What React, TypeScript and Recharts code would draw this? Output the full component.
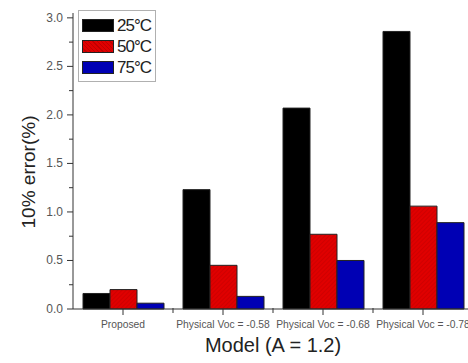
import { BarChart, Bar, XAxis, YAxis, Legend, Label } from 'recharts';

const CATEGORIES = ['Proposed', 'Physical Voc = -0.58', 'Physical Voc = -0.68', 'Physical Voc = -0.78'];
const T25 = [0.16, 1.23, 2.07, 2.86];
const T50 = [0.2, 0.45, 0.77, 1.06];
const T75 = [0.06, 0.13, 0.5, 0.89];
const Y_TICKS = [0, 0.25, 0.5, 0.75, 1, 1.25, 1.5, 1.75, 2, 2.25, 2.5, 2.75, 3];
const SERIES = [
  { key: 't25', name: '25°C', fill: '#000000', legend: '#000000' },
  { key: 't50', name: '50°C', fill: 'url(#hatchRed)', legend: 'repeating-linear-gradient(45deg, #e00000 0 2px, #c00000 2px 3px)' },
  { key: 't75', name: '75°C', fill: '#0000b4', legend: '#0000b4' },
];

const data = CATEGORIES.map((name, i) => ({ name, t25: T25[i], t50: T50[i], t75: T75[i] }));

const PLOT_W = 400;
const CAT_W = PLOT_W / CATEGORIES.length;
const FONT = '"Liberation Sans", Arial, sans-serif';

function YTick({ x, y, payload }: any) {
  const major = Math.abs(payload.value * 2 - Math.round(payload.value * 2)) < 1e-6;
  return (
    <g>
      <line x1={x} x2={x - (major ? 6 : 4)} y1={y} y2={y} stroke="#333" strokeWidth={1} />
      {major && (
        <text x={x - 10} y={y + 4} textAnchor="end" fontSize={12} fill="#555" fontFamily={FONT}>
          {payload.value.toFixed(1)}
        </text>
      )}
    </g>
  );
}

function XTick({ x, y, payload }: any) {
  return (
    <g>
      <line x1={x} x2={x} y1={y} y2={y + 6} stroke="#333" strokeWidth={1} />
      <line x1={x + CAT_W / 2} x2={x + CAT_W / 2} y1={y - 1} y2={y + 4} stroke="#333" strokeWidth={1} />
      <text x={x} y={y + 19} textAnchor="middle" fontSize={10.3} fill="#555" fontFamily={FONT}>
        {payload.value}
      </text>
    </g>
  );
}

function LegendBox() {
  return (
    <div
      style={{
        border: '1px solid #b0b0b0',
        padding: '4px 4px 3px 3px',
        background: '#fff',
        fontFamily: FONT,
      }}
    >
      {SERIES.map((s) => (
        <div key={s.key} style={{ display: 'flex', alignItems: 'center', height: 21 }}>
          <span
            style={{
              display: 'inline-block',
              width: 30,
              height: 11,
              background: s.legend,
              border: '1px solid #222',
              marginRight: 3,
            }}
          />
          <span style={{ fontSize: 17, color: '#222', letterSpacing: -1 }}>{s.name}</span>
        </div>
      ))}
    </div>
  );
}

export default function App() {
  return (
    <div style={{ position: 'absolute', left: 0, top: 0, width: 468, height: 363, overflow: 'hidden', background: '#fff' }}>
      <BarChart
        width={480}
        height={363}
        data={data}
        margin={{ top: 13, right: 7, left: 0, bottom: 0 }}
        barCategoryGap="10%"
        barGap={0}
      >
        <defs>
          <pattern id="hatchRed" width="3" height="3" patternUnits="userSpaceOnUse" patternTransform="rotate(45)">
            <rect width="3" height="3" fill="#e00000" />
            <line x1="0" y1="0" x2="0" y2="3" stroke="#b80000" strokeWidth="0.8" />
          </pattern>
        </defs>
        <XAxis
          dataKey="name"
          height={54}
          axisLine={{ stroke: '#333' }}
          tickLine={false}
          tickSize={0}
          tickMargin={0}
          interval={0}
          tick={<XTick />}
        >
          <Label
            content={({ viewBox }: any) => (
              <text
                x={viewBox.x + viewBox.width / 2}
                y={viewBox.y + 43}
                textAnchor="middle"
                fontSize={20}
                fill="#222"
                fontFamily={FONT}
              >
                Model (A = 1.2)
              </text>
            )}
          />
        </XAxis>
        <YAxis
          width={73}
          domain={[0, 3.05]}
          ticks={Y_TICKS}
          interval={0}
          axisLine={{ stroke: '#333' }}
          tickLine={false}
          tickSize={0}
          tickMargin={0}
          tick={<YTick />}
        >
          <Label
            content={({ viewBox }: any) => {
              const cx = viewBox.x + 28;
              const cy = viewBox.y + viewBox.height / 2 + 11;
              return (
                <text
                  x={cx}
                  y={cy}
                  transform={`rotate(-90, ${cx}, ${cy})`}
                  textAnchor="middle"
                  dominantBaseline="central"
                  fontSize={19}
                  fill="#222"
                  fontFamily={FONT}
                >
                  10% error(%)
                </text>
              );
            }}
          />
        </YAxis>
        <Legend
          layout="vertical"
          verticalAlign="middle"
          align="center"
          wrapperStyle={{ left: 78, top: 10, width: 'auto', height: 'auto' }}
          content={<LegendBox />}
        />
        {SERIES.map((s) => (
          <Bar
            key={s.key}
            dataKey={s.key}
            name={s.name}
            fill={s.fill}
            stroke="#222"
            strokeWidth={1}
            isAnimationActive={false}
          />
        ))}
      </BarChart>
    </div>
  );
}
